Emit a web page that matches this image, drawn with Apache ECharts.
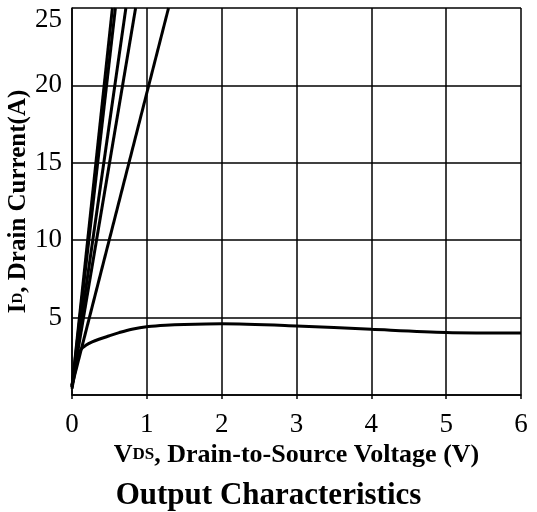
<!DOCTYPE html>
<html>
<head>
<meta charset="utf-8">
<title>Output Characteristics</title>
<script src="https://cdn.jsdelivr.net/npm/echarts@6/dist/echarts.min.js"></script>
<style>
  html, body { margin: 0; padding: 0; background: #fff; }
  #main { width: 537px; height: 512px; }
</style>
</head>
<body>
<div id="main"></div>
<script type="text/javascript">
// axis ticks
var xTicks = [0, 1, 2, 3, 4, 5, 6];
var yTicks = [0, 5, 10, 15, 20, 25];

// steep curves (higher VGS), [VDS, ID] pairs
var lineA = [[0, 0.5], [0.54, 25]];
var lineB = [[0, 0.5], [0.58, 25]];
var lineC = [[0, 0.6], [0.72, 25]];
var lineD = [[0, 0.6], [0.85, 25]];
var lineE = [[0, 0.6], [1.29, 25]];

// lowest VGS curve
var lowV = [0, 0.04, 0.08, 0.12, 0.185, 0.27, 0.36, 0.49, 0.63, 0.8, 1.02, 1.25, 1.5, 2, 3, 4, 5, 6];
var lowI = [0.4, 1.5, 2.45, 2.95, 3.21, 3.43, 3.6, 3.81, 4.03, 4.25, 4.42, 4.51, 4.56, 4.6, 4.46, 4.24, 4.04, 4.0];

var serif = 'Liberation Serif';

function zip(xs, ys) {
  var out = [];
  for (var i = 0; i < xs.length; i++) out.push([xs[i], ys[i]]);
  return out;
}

function steep(data) {
  return {
    type: 'line', data: data, symbol: 'none', clip: true,
    lineStyle: { color: '#000', width: 3 }
  };
}

var myChart = echarts.init(document.getElementById('main'));
var option = {
  animation: false,
  backgroundColor: '#fff',
  title: {
    text: 'Output Characteristics',
    left: 'center',
    top: 475,
    textStyle: { fontFamily: serif, fontWeight: 'bold', fontSize: 31, color: '#000' }
  },
  grid: { left: 72, right: 16, top: 8, bottom: 117, containLabel: false, outerBoundsMode: 'none' },
  xAxis: {
    type: 'value',
    min: xTicks[0], max: xTicks[xTicks.length - 1], interval: 1,
    name: '{a|V}{b|DS}{a|, Drain-to-Source Voltage (V)}',
    nameLocation: 'middle',
    nameGap: 47,
    nameMoveOverlap: false,
    nameTextStyle: {
      rich: {
        a: { fontFamily: serif, fontWeight: 'bold', fontSize: 26, color: '#000' },
        b: { fontFamily: serif, fontWeight: 'bold', fontSize: 17, color: '#000' }
      }
    },
    axisLine: { lineStyle: { color: '#000', width: 1.5 } },
    axisTick: { show: true, length: 4, lineStyle: { color: '#000', width: 1.5 } },
    axisLabel: { fontFamily: serif, fontSize: 27, color: '#000', margin: 16 },
    splitLine: { show: true, lineStyle: { color: '#000', width: 1.5 } }
  },
  yAxis: {
    type: 'value',
    min: yTicks[0], max: yTicks[yTicks.length - 1], interval: 5,
    name: '{a|I}{b|D}{a|, Drain Current(A)}',
    nameLocation: 'middle',
    nameRotate: 90,
    nameGap: 41,
    nameMoveOverlap: false,
    nameTextStyle: {
      rich: {
        a: { fontFamily: serif, fontWeight: 'bold', fontSize: 25, color: '#000' },
        b: { fontFamily: serif, fontWeight: 'bold', fontSize: 15, color: '#000' }
      }
    },
    axisLine: { show: true, lineStyle: { color: '#000', width: 1.5 } },
    axisTick: { show: false },
    axisLabel: {
      fontFamily: serif, fontSize: 27, color: '#000', margin: 10,
      formatter: function (v) {
        if (v === yTicks[0]) return '';
        if (v === yTicks[yTicks.length - 1]) return '{top|' + v + '}';
        return v;
      },
      rich: {
        top: { fontFamily: serif, fontSize: 27, color: '#000', padding: [24, 0, 0, 0] }
      }
    },
    splitLine: { show: true, lineStyle: { color: '#000', width: 1.5 } }
  },
  series: [
    steep(lineA), steep(lineB), steep(lineC), steep(lineD), steep(lineE),
    {
      type: 'line', data: zip(lowV, lowI), symbol: 'none',
      smooth: 0.3,
      lineStyle: { color: '#000', width: 3 }
    }
  ]
};
myChart.setOption(option);
</script>
</body>
</html>
